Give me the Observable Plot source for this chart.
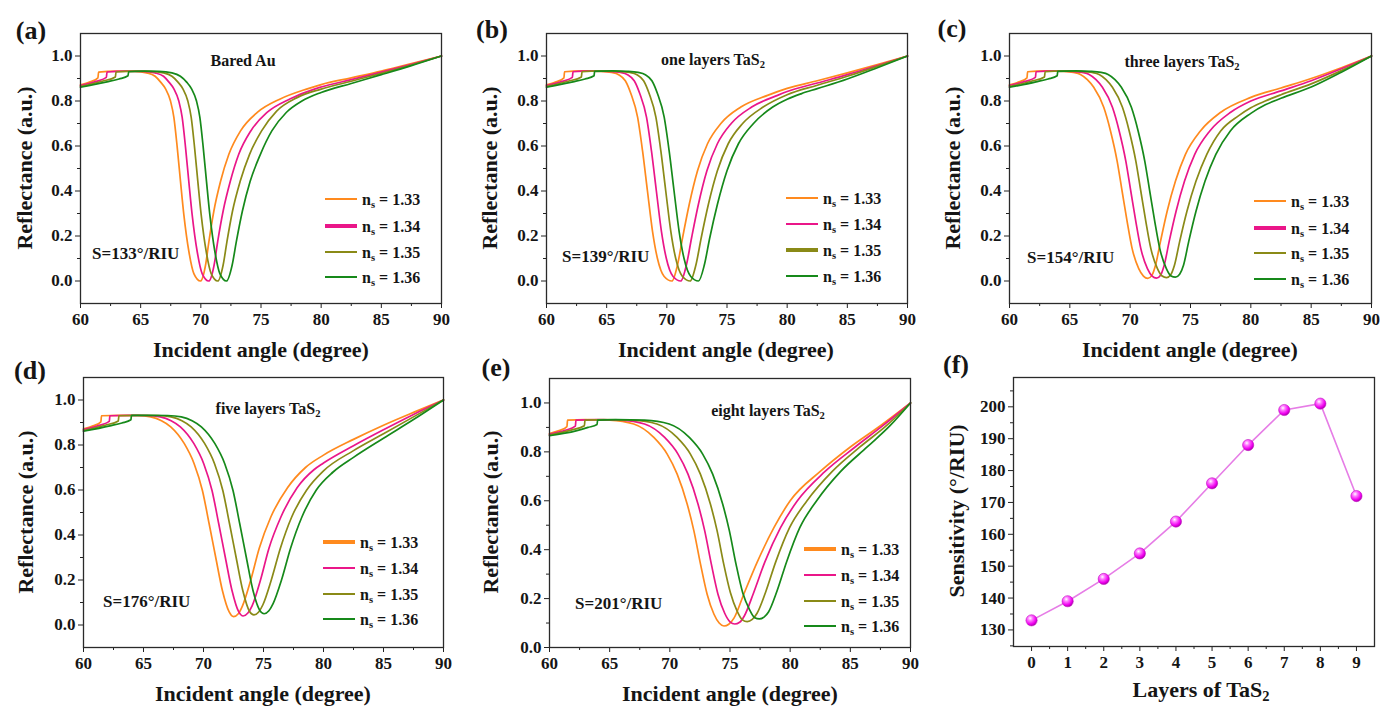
<!DOCTYPE html>
<html>
<head>
<meta charset="utf-8">
<script src="https://cdn.jsdelivr.net/npm/d3@7"></script>
<script src="https://cdn.jsdelivr.net/npm/@observablehq/plot@0.6"></script>
<style>
html,body{margin:0;padding:0;background:#fff;}
#fig{position:relative;width:1394px;height:706px;overflow:hidden;font-family:"Liberation Serif","Times New Roman",serif;font-weight:bold;color:#151515;background:#fff;}
#fig svg{position:absolute;}
.t{position:absolute;white-space:nowrap;line-height:1;}
.t sub{font-size:0.66em;vertical-align:-0.3em;line-height:0;}
.sw{position:absolute;width:32px;}
</style>
</head>
<body>
<div id="fig"></div>
<script>
// ---------- data: refractive indices of the sensing medium ----------
const nsLabels = ["1.33", "1.34", "1.35", "1.36"];
const nsColors = ["#ff8a1e", "#ea1689", "#8a8a17", "#16891a"];

// ---------- (a) bare Au : [incident angle, reflectance] ----------
const bare133 = [[60,.872],[60.8,.885],[61.45,.903],[61.5,.928],[63,.933],[64.5,.932],[65.5,.925],[66.2,.91],[66.66,.884],[67.07,.854],[67.48,.80],[67.76,.727],[68.04,.593],[68.31,.443],[68.59,.294],[69.01,.13],[69.42,.033],[69.97,0],[70.39,.07],[70.67,.175],[71.08,.31],[71.64,.443],[72.33,.563],[73.3,.667],[74.69,.749],[76.6,.809],[78.85,.854],[80,.873],[82.5,.903],[85,.933],[87.5,.966],[90,1]];
const bare134 = [[60,.869],[61.3,.887],[62.15,.905],[62.2,.929],[63.8,.933],[65.2,.932],[66.2,.925],[66.9,.91],[67.35,.884],[67.76,.854],[68.17,.80],[68.45,.727],[68.73,.593],[69.0,.443],[69.28,.294],[69.7,.13],[70.11,.033],[70.66,0],[71.1,.07],[71.4,.175],[71.85,.31],[72.45,.443],[73.15,.563],[74.15,.667],[75.5,.749],[77.4,.809],[79.5,.854],[80,.862],[82.5,.895],[85,.928],[87.5,.963],[90,1]];
const bare135 = [[60,.865],[61.8,.888],[62.9,.907],[62.95,.929],[64.5,.933],[65.8,.932],[66.9,.925],[67.6,.91],[68.1,.884],[68.51,.854],[68.92,.80],[69.2,.727],[69.48,.593],[69.75,.443],[70.03,.294],[70.45,.13],[70.86,.033],[71.41,0],[71.85,.07],[72.17,.175],[72.63,.31],[73.27,.443],[74.05,.563],[75.05,.667],[76.3,.755],[78.0,.815],[80,.853],[82.5,.888],[85,.923],[87.5,.96],[90,1]];
const bare136 = [[60,.861],[62.2,.885],[63.2,.898],[63.95,.912],[64.0,.93],[65.3,.933],[66.5,.932],[67.6,.925],[68.3,.91],[68.82,.884],[69.23,.854],[69.64,.80],[69.92,.727],[70.2,.593],[70.47,.443],[70.75,.294],[71.17,.13],[71.58,.033],[72.13,0],[72.6,.07],[72.95,.175],[73.45,.31],[74.1,.443],[74.95,.563],[75.9,.667],[77.1,.749],[78.4,.80],[80,.838],[82.5,.878],[85,.917],[87.5,.957],[90,1]];

// ---------- (b) one layer TaS2 ----------
const one133 = [[60,.872],[60.8,.885],[61.45,.903],[61.5,.93],[63,.934],[64.5,.932],[65.4,.927],[66.0,.917],[66.55,.89],[67.01,.833],[67.57,.728],[67.98,.579],[68.39,.40],[68.81,.221],[69.22,.10],[69.78,.02],[70.42,0],[70.89,.072],[71.3,.19],[71.86,.34],[72.55,.49],[73.38,.61],[74.49,.70],[76.15,.773],[78.37,.825],[80,.856],[82.5,.89],[85,.925],[87.5,.962],[90,1]];
const one134 = [[60,.869],[61.3,.887],[62.15,.905],[62.2,.93],[63.8,.934],[65.2,.932],[66.14,.927],[66.74,.917],[67.29,.89],[67.75,.833],[68.31,.728],[68.72,.579],[69.13,.40],[69.55,.221],[69.96,.10],[70.52,.02],[71.16,0],[71.63,.072],[72.05,.19],[72.62,.34],[73.33,.49],[74.2,.61],[75.35,.70],[77.05,.773],[79.2,.825],[80,.842],[82.5,.88],[85,.917],[87.5,.958],[90,1]];
const one135 = [[60,.865],[61.8,.888],[62.9,.907],[62.95,.93],[64.5,.934],[65.9,.932],[66.92,.927],[67.52,.917],[68.07,.89],[68.53,.833],[69.09,.728],[69.5,.579],[69.91,.40],[70.33,.221],[70.74,.10],[71.3,.02],[71.94,0],[72.42,.072],[72.85,.19],[73.45,.34],[74.2,.49],[75.1,.61],[76.3,.70],[78.0,.773],[80,.828],[82.5,.87],[85,.91],[87.5,.954],[90,1]];
const one136 = [[60,.861],[62.2,.885],[63.2,.898],[63.95,.912],[64.0,.932],[65.5,.934],[66.7,.932],[67.61,.927],[68.21,.917],[68.76,.89],[69.22,.833],[69.78,.728],[70.19,.579],[70.6,.40],[71.02,.221],[71.43,.10],[71.99,.02],[72.63,0],[73.12,.072],[73.56,.19],[74.2,.34],[75.0,.49],[75.95,.61],[77.2,.70],[78.8,.773],[80,.808],[81.2,.833],[82.5,.855],[85,.898],[87.5,.948],[90,1]];

// ---------- (c) three layers TaS2 ----------
const three133 = [[60,.872],[60.8,.885],[61.45,.903],[61.5,.93],[63,.934],[64.5,.932],[65.3,.927],[65.88,.918],[66.45,.895],[66.98,.861],[67.81,.772],[68.37,.667],[68.92,.533],[69.33,.40],[69.75,.264],[70.16,.145],[70.71,.055],[71.1,.022],[71.46,.012],[71.8,.025],[72.1,.07],[72.51,.175],[73.06,.309],[73.75,.443],[74.58,.563],[75.82,.667],[77.48,.749],[80,.816],[82.5,.858],[85,.90],[87.5,.948],[90,1]];
const three134 = [[60,.869],[61.3,.887],[62.15,.905],[62.2,.93],[63.8,.934],[65.2,.932],[66.02,.927],[66.6,.918],[67.17,.895],[67.7,.861],[68.53,.772],[69.09,.667],[69.64,.533],[70.05,.40],[70.47,.264],[70.88,.145],[71.43,.055],[71.82,.022],[72.18,.013],[72.52,.026],[72.82,.07],[73.23,.175],[73.8,.309],[74.5,.443],[75.35,.563],[76.6,.667],[78.3,.749],[80,.80],[82.5,.845],[85,.89],[87.5,.943],[90,1]];
const three135 = [[60,.865],[61.8,.888],[62.9,.907],[62.95,.93],[64.5,.934],[65.9,.932],[66.85,.927],[67.43,.918],[68.0,.895],[68.53,.861],[69.36,.772],[69.92,.667],[70.47,.533],[70.88,.40],[71.3,.264],[71.71,.145],[72.26,.055],[72.65,.022],[73.01,.015],[73.35,.027],[73.67,.07],[74.1,.175],[74.7,.309],[75.45,.443],[76.35,.563],[77.5,.667],[79.0,.735],[80,.77],[81.2,.80],[82.5,.828],[85,.876],[87.5,.935],[90,1]];
const three136 = [[60,.861],[62.2,.885],[63.2,.898],[63.95,.912],[64.0,.932],[65.5,.934],[66.7,.932],[67.59,.927],[68.17,.918],[68.74,.895],[69.27,.861],[70.1,.772],[70.66,.667],[71.21,.533],[71.62,.40],[72.04,.264],[72.45,.145],[73.0,.055],[73.39,.022],[73.75,.017],[74.1,.03],[74.42,.07],[74.85,.175],[75.45,.309],[76.2,.443],[77.1,.563],[78.3,.667],[80,.745],[81.2,.783],[82.5,.812],[85,.862],[87.5,.928],[90,1]];

// ---------- (d) five layers TaS2 ----------
const five133 = [[60,.872],[60.8,.885],[61.45,.903],[61.5,.93],[63,.932],[64.5,.931],[65.6,.925],[66.5,.908],[67.27,.881],[68.39,.807],[69.22,.717],[69.91,.598],[70.47,.45],[71.02,.30],[71.58,.152],[72.14,.058],[72.5,.037],[72.9,.05],[73.25,.085],[73.94,.2],[74.64,.34],[75.61,.48],[77.0,.61],[78.5,.70],[80,.755],[82.5,.825],[85,.888],[87.5,.945],[90,1]];
const five134 = [[60,.869],[61.3,.887],[62.15,.905],[62.2,.93],[63.8,.932],[65.3,.931],[66.4,.925],[67.3,.908],[68.07,.881],[69.19,.807],[70.02,.717],[70.71,.598],[71.27,.45],[71.82,.30],[72.38,.152],[72.94,.058],[73.3,.04],[73.7,.053],[74.05,.085],[74.75,.2],[75.45,.34],[76.45,.48],[77.8,.61],[79.2,.69],[80,.72],[82.5,.797],[85,.868],[87.5,.936],[90,1]];
const five135 = [[60,.865],[61.8,.888],[62.9,.907],[62.95,.93],[64.5,.932],[66.2,.931],[67.3,.925],[68.2,.908],[68.97,.881],[70.09,.807],[70.92,.717],[71.61,.598],[72.17,.45],[72.72,.30],[73.28,.152],[73.84,.06],[74.2,.045],[74.6,.058],[74.95,.09],[75.65,.2],[76.4,.34],[77.35,.48],[78.6,.60],[80,.685],[82.5,.775],[85,.85],[87.5,.925],[90,1]];
const five136 = [[60,.861],[62.2,.885],[63.2,.898],[63.95,.912],[64.0,.932],[65.5,.932],[67.0,.931],[68.15,.925],[69.05,.908],[69.82,.881],[70.94,.807],[71.77,.717],[72.46,.598],[73.02,.45],[73.57,.30],[74.13,.152],[74.69,.065],[75.05,.05],[75.45,.063],[75.8,.095],[76.5,.2],[77.25,.34],[78.2,.48],[79.4,.60],[80.8,.68],[82.5,.745],[85,.83],[87.5,.913],[90,1]];

// ---------- (e) eight layers TaS2 ----------
const eight133 = [[60,.875],[60.8,.887],[61.45,.903],[61.5,.93],[63,.932],[65,.93],[67.0,.914],[68.67,.859],[69.78,.791],[70.61,.709],[71.44,.587],[72.0,.477],[72.55,.341],[73.1,.218],[73.66,.137],[74.1,.1],[74.5,.088],[74.9,.095],[75.33,.12],[76.16,.22],[77.27,.35],[78.65,.49],[80,.6],[82.5,.72],[85,.82],[87.5,.907],[90,1]];
const eight134 = [[60,.872],[61.3,.888],[62.15,.905],[62.2,.93],[64,.932],[65.9,.93],[67.9,.914],[69.57,.859],[70.68,.791],[71.51,.709],[72.34,.587],[72.9,.477],[73.45,.341],[74.0,.218],[74.56,.14],[75.0,.105],[75.4,.096],[75.8,.103],[76.2,.13],[76.95,.222],[77.9,.35],[79.2,.49],[80.6,.6],[82.9,.72],[85.4,.82],[87.7,.907],[90,1]];
const eight135 = [[60,.869],[61.8,.889],[62.9,.907],[62.95,.93],[64.5,.932],[66.9,.93],[68.93,.914],[70.6,.859],[71.71,.791],[72.54,.709],[73.37,.587],[73.93,.477],[74.48,.341],[75.03,.225],[75.6,.148],[76.03,.113],[76.43,.106],[76.85,.115],[77.25,.14],[77.95,.225],[78.8,.35],[79.95,.49],[81.4,.6],[83.5,.72],[85.8,.82],[88,.907],[90,1]];
const eight136 = [[60,.866],[62.2,.886],[63.2,.9],[63.95,.912],[64.0,.93],[65.5,.932],[67.9,.93],[69.95,.914],[71.62,.859],[72.73,.791],[73.56,.709],[74.39,.587],[74.95,.477],[75.5,.341],[76.05,.225],[76.62,.155],[77.05,.122],[77.45,.117],[77.85,.125],[78.2,.145],[78.9,.23],[79.7,.35],[80.8,.49],[82.2,.6],[84.2,.72],[86.4,.82],[88.3,.907],[90,1]];

// ---------- (f) sensitivity vs number of TaS2 layers ----------
const layers = [0, 1, 2, 3, 4, 5, 6, 7, 8, 9];
const sensitivity = [133, 139, 146, 154, 164, 176, 188, 199, 201, 172];

// ---------- tick labels ----------
const angleTicks = [60, 65, 70, 75, 80, 85, 90];
const angleMinor = [62.5, 67.5, 72.5, 77.5, 82.5, 87.5];
const reflTicks = [0, 0.2, 0.4, 0.6, 0.8, 1.0];
const reflMinor = [0.1, 0.3, 0.5, 0.7, 0.9];
const sensTicks = [130, 140, 150, 160, 170, 180, 190, 200];
const sensMinor = [125, 135, 145, 155, 165, 175, 185, 195, 205];
const layerMinor = [0.5, 1.5, 2.5, 3.5, 4.5, 5.5, 6.5, 7.5, 8.5];

// ---------- layout ----------
const fig = document.getElementById("fig");
const FONT = '"Liberation Serif", "Times New Roman", serif';

function addText(html, x, y, size, opts = {}) {
  const d = document.createElement("div");
  d.className = "t";
  d.innerHTML = html;
  d.style.fontSize = size + "px";
  d.style.left = x + "px";
  d.style.top = y + "px";
  const tx = opts.anchor === "start" ? "0" : "-50%";
  d.style.transform = `translate(${tx},-50%)` + (opts.rotate ? " rotate(-90deg)" : "");
  fig.appendChild(d);
  return d;
}

const panels = [
  {id: "(a)", series: [bare133, bare134, bare135, bare136], frame: [80, 33, 361, 270], yDomain: [-0.1, 1.1],
   title: "Bared Au", titleXY: [243, 61], sens: "S=133°/RIU", sensXY: [92, 253], legX: 325, legY: [199, 226, 252, 277], thick: 1,
   labXY: [31, 31], xtXY: [261, 350], ytXY: [25, 168]},
  {id: "(b)", series: [one133, one134, one135, one136], frame: [546, 33, 361, 270], yDomain: [-0.1, 1.1],
   title: "one layers TaS<sub>2</sub>", titleXY: [713, 60], sens: "S=139°/RIU", sensXY: [562, 256], legX: 786, legY: [198, 224, 250, 276], thick: 2,
   labXY: [492, 30], xtXY: [726, 350], ytXY: [490, 168]},
  {id: "(c)", series: [three133, three134, three135, three136], frame: [1009, 33, 362, 270], yDomain: [-0.1, 1.1],
   title: "three layers TaS<sub>2</sub>", titleXY: [1182, 62], sens: "S=154°/RIU", sensXY: [1027, 257], legX: 1254, legY: [201, 228, 253, 279], thick: 1,
   labXY: [952, 29], xtXY: [1190, 350], ytXY: [953, 168]},
  {id: "(d)", series: [five133, five134, five135, five136], frame: [83, 377, 360, 270], yDomain: [-0.1, 1.1],
   title: "five layers TaS<sub>2</sub>", titleXY: [268, 409], sens: "S=176°/RIU", sensXY: [103, 601], legX: 323, legY: [542, 568, 594, 619], thick: 0,
   labXY: [30, 371], xtXY: [263, 694], ytXY: [26, 512]},
  {id: "(e)", series: [eight133, eight134, eight135, eight136], frame: [549, 378, 361, 269], yDomain: [0, 1.1],
   title: "eight layers TaS<sub>2</sub>", titleXY: [768, 411], sens: "S=201°/RIU", sensXY: [575, 603], legX: 804, legY: [549, 575, 601, 626], thick: 0,
   labXY: [496, 368], xtXY: [730, 694], ytXY: [491, 512]}
];

const ML = 70, MT = 14, MR = 14, MB = 34;
const baseStyle = {fontFamily: FONT, fontSize: "17px", fontWeight: "bold", color: "#151515", background: "transparent", overflow: "visible"};

function placeSvg(chart, L, T) {
  chart.style.left = (L - ML) + "px";
  chart.style.top = (T - MT) + "px";
  fig.appendChild(chart);
}

for (const p of panels) {
  const [L, T, W, H] = p.frame;
  const rows = p.series.flatMap((s, i) => s.map(([a, r]) => ({angle: a, R: r, n: nsLabels[i]})));
  const chart = Plot.plot({
    width: W + ML + MR, height: H + MT + MB,
    marginLeft: ML, marginTop: MT, marginRight: MR, marginBottom: MB,
    style: baseStyle,
    x: {domain: [60, 90]},
    y: {domain: p.yDomain},
    color: {domain: nsLabels, range: nsColors},
    marks: [
      Plot.line(rows, {x: "angle", y: "R", z: "n", stroke: "n", strokeWidth: 1.7, curve: "monotone-x"}),
      Plot.axisX({ticks: angleMinor, tickSize: 3, fill: "none", label: null, stroke: "#222"}),
      Plot.axisX({ticks: angleTicks, tickSize: 5, tickPadding: 4, label: null, tickFormat: d => String(d), stroke: "#222", fill: "#151515"}),
      Plot.axisY({ticks: reflMinor, tickSize: 3, fill: "none", label: null, stroke: "#222"}),
      Plot.axisY({ticks: reflTicks, tickSize: 5, tickPadding: 3, label: null, tickFormat: d3.format(".1f"), stroke: "#222", fill: "#151515"}),
      Plot.frame({stroke: "#2a2a2a", strokeWidth: 1.3})
    ]
  });
  placeSvg(chart, L, T);
}

// ---------- (f) ----------
{
  const [L, T, W, H] = [1013, 377, 361, 269];
  const rows = layers.map((k, i) => ({layer: k, S: sensitivity[i]}));
  const chart = Plot.plot({
    width: W + ML + MR, height: H + MT + MB,
    marginLeft: ML, marginTop: MT, marginRight: MR, marginBottom: MB,
    style: baseStyle,
    x: {domain: [-0.5, 9.5]},
    y: {domain: [124.8, 209.2]},
    marks: [
      Plot.line(rows, {x: "layer", y: "S", stroke: "#e67de6", strokeWidth: 1.6}),
      Plot.dot(rows, {x: "layer", y: "S", r: 5.6, fill: "url(#ballGrad)", stroke: "#c010c0", strokeWidth: 0.6}),
      Plot.axisX({ticks: layerMinor, tickSize: 3, fill: "none", label: null, stroke: "#222"}),
      Plot.axisX({ticks: layers, tickSize: 5, tickPadding: 4, label: null, tickFormat: d => String(d), stroke: "#222", fill: "#151515"}),
      Plot.axisY({ticks: sensMinor, tickSize: 3, fill: "none", label: null, stroke: "#222"}),
      Plot.axisY({ticks: sensTicks, tickSize: 5, tickPadding: 3, label: null, tickFormat: d => String(d), stroke: "#222", fill: "#151515"}),
      Plot.frame({stroke: "#2a2a2a", strokeWidth: 1.3})
    ]
  });
  const defs = d3.select(chart).insert("defs", ":first-child");
  const g = defs.append("radialGradient").attr("id", "ballGrad").attr("cx", "38%").attr("cy", "32%").attr("r", "68%");
  g.append("stop").attr("offset", "0%").attr("stop-color", "#ffffff");
  g.append("stop").attr("offset", "30%").attr("stop-color", "#ff7cff");
  g.append("stop").attr("offset", "75%").attr("stop-color", "#f000f0");
  g.append("stop").attr("offset", "100%").attr("stop-color", "#b000b0");
  placeSvg(chart, L, T);
}

// ---------- text overlays ----------
for (const p of panels) {
  addText(p.id, p.labXY[0], p.labXY[1], 26);
  addText(p.title, p.titleXY[0], p.titleXY[1], 16);
  addText(p.sens, p.sensXY[0], p.sensXY[1], 17, {anchor: "start"});
  addText("Incident angle (degree)", p.xtXY[0], p.xtXY[1], 22);
  addText("Reflectance (a.u.)", p.ytXY[0], p.ytXY[1], 22, {rotate: true});
  nsLabels.forEach((lab, i) => {
    const y = p.legY[i];
    const th = i === p.thick ? 3.2 : 1.8;
    const sw = document.createElement("div");
    sw.className = "sw";
    sw.style.left = p.legX + "px";
    sw.style.top = (y - th / 2) + "px";
    sw.style.height = th + "px";
    sw.style.background = nsColors[i];
    fig.appendChild(sw);
    addText(`n<sub>s</sub> = ${lab}`, p.legX + 37, y + 1, 16, {anchor: "start"});
  });
}
addText("(f)", 956, 365, 26);
addText("Layers of TaS<sub>2</sub>", 1201, 690, 22);
addText("Sensitivity (°/RIU)", 957, 511, 22, {rotate: true});
</script>
</body>
</html>
